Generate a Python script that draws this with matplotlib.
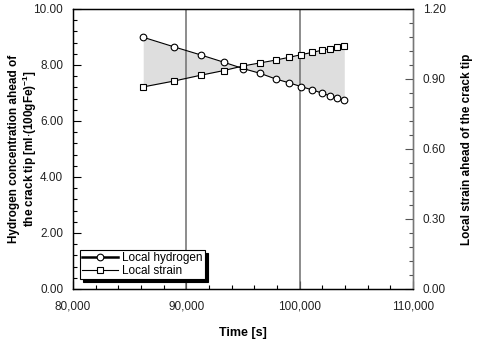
import numpy as np
import matplotlib.pyplot as plt
from matplotlib.ticker import MultipleLocator, FuncFormatter

plt.rcParams['font.family'] = ['Liberation Sans', 'DejaVu Sans']
plt.rcParams['mathtext.fontset'] = 'custom'
plt.rcParams['mathtext.rm'] = 'Liberation Sans:bold'
plt.rcParams['mathtext.it'] = 'Liberation Sans:bold'
plt.rcParams['mathtext.bf'] = 'Liberation Sans:bold'

# data
time_s = [86200, 88900, 91270, 93300, 95030, 96530, 97890, 99090,
          100120, 101115, 101945, 102650, 103320, 103940]
hydrogen = [8.99, 8.65, 8.36, 8.10, 7.87, 7.70, 7.50, 7.36,
            7.23, 7.11, 7.00, 6.90, 6.82, 6.74]
strain = [0.866, 0.891, 0.916, 0.936, 0.956, 0.969, 0.981, 0.993,
          1.004, 1.014, 1.023, 1.030, 1.036, 1.043]
vlines = [90000, 100000]

fig = plt.figure(figsize=(4.83, 3.46), dpi=100)
ax = fig.add_axes([0.151, 0.165, 0.704, 0.809])
ax2 = ax.twinx()

ratio = 10.0 / 1.2
strain_left = np.array(strain) * ratio
ax.fill_between(time_s, hydrogen, strain_left, color='#dedede', lw=0, zorder=1)
for v in vlines:
    ax.axvline(v, color='#6e6e6e', lw=1.1, zorder=2)

h1, = ax.plot(time_s, hydrogen, color='black', lw=0.8, marker='o', ms=4.8,
              mfc='white', mec='black', mew=0.8, zorder=3)
h2, = ax2.plot(time_s, strain, color='black', lw=0.8, marker='s', ms=4.8,
               mfc='white', mec='black', mew=0.8, zorder=3)

ax.set_xlim(80000, 110000)
ax.set_ylim(0, 10)
ax2.set_ylim(0, 1.2)

ax.xaxis.set_major_locator(MultipleLocator(10000))
ax.xaxis.set_minor_locator(MultipleLocator(2000))
ax.xaxis.set_major_formatter(FuncFormatter(lambda v, p: f'{int(v):,}'))
ax.yaxis.set_major_locator(MultipleLocator(2))
ax.yaxis.set_minor_locator(MultipleLocator(0.4))
ax.yaxis.set_major_formatter(FuncFormatter(lambda v, p: f'{v:.2f}'))
ax2.yaxis.set_major_locator(MultipleLocator(0.3))
ax2.yaxis.set_minor_locator(MultipleLocator(0.06))
ax2.yaxis.set_major_formatter(FuncFormatter(lambda v, p: f'{v:.2f}'))

ax.tick_params(which='both', direction='in', labelsize=8.5, color='black',
               labelcolor='#222222', pad=7)
ax.tick_params(which='major', length=6, width=0.8)
ax.tick_params(which='minor', length=3, width=0.8)
ax.tick_params(axis='x', pad=8)
ax2.tick_params(which='both', direction='in', labelsize=8.5, color='#555555',
                labelcolor='#222222', pad=7)
ax2.tick_params(which='major', length=6, width=0.8)
ax2.tick_params(which='minor', length=3, width=0.8)

for a in (ax, ax2):
    for s in a.spines.values():
        s.set_linewidth(0.9)
ax2.spines['right'].set_color('#777777')

ax.set_xlabel('Time [s]', fontsize=9, fontweight='bold', labelpad=11)
ax.set_ylabel('Hydrogen concentration ahead of\nthe crack tip [ml$\\cdot$(100gFe)$^{-1}$]',
              fontsize=8.5, fontweight='bold', linespacing=1.05)
ax.yaxis.set_label_coords(-0.099, 0.5)
ax2.set_ylabel('Local strain ahead of the crack tip', fontsize=8.5,
               fontweight='bold', rotation=90)
ax2.yaxis.set_label_coords(1.141, 0.5)

leg = ax2.legend([h1, h2], ['Local hydrogen', 'Local strain'], loc='lower left',
                 bbox_to_anchor=(0.02, 0.035), fontsize=8.5, fancybox=False,
                 edgecolor='black', framealpha=1, handlelength=3.0,
                 borderpad=0.2, labelspacing=0.05, handletextpad=0.4,
                 borderaxespad=0, shadow={'color': 'black', 'alpha': 1})
leg.get_frame().set_linewidth(0.8)
leg.get_lines()[0].set_linewidth(1.8)

fig.savefig('out.png', dpi=100)
